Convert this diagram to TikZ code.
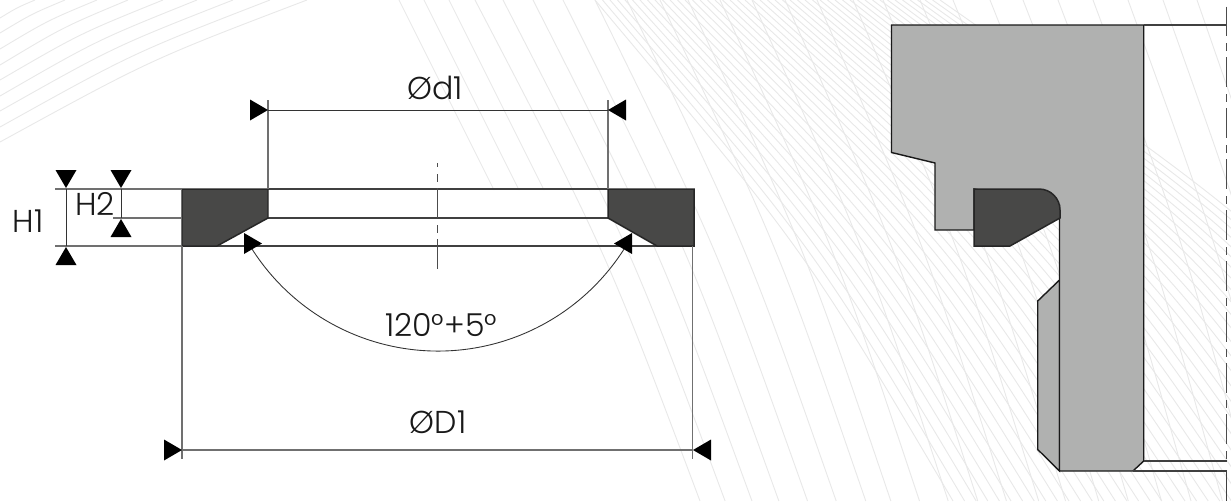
\documentclass[tikz,border=0pt]{standalone}
\usepackage{fontspec}
\setmainfont{Poppins Light}
\usepackage{xcolor}
\definecolor{bgfan}{HTML}{E8E8E8}
\definecolor{extgrey}{HTML}{707070}
\definecolor{sealgrey}{HTML}{484847}
\definecolor{steelgrey}{HTML}{B0B1B0}
\tikzset{
  fan/.style={draw=bgfan, line width=0.5pt},
  ext/.style={draw=extgrey, line width=0.65pt},
  dimline/.style={draw=black!80, line width=0.5pt},
  edge/.style={draw=black!75, line width=0.75pt},
  seal/.style={draw=black!85, fill=sealgrey, line width=0.85pt, line join=miter},
  steel/.style={draw=black!90, fill=steelgrey, line width=0.8pt, line join=miter},
  axisline/.style={draw=black!70, line width=0.6pt, dash pattern=on 17pt off 4pt on 4.5pt off 3.5pt},
  lab/.style={text=black!90, font=\fontsize{18}{20}\selectfont, inner sep=0pt}
}
\newcommand{\DimTip}[2]{%
  \fill[black, rotate around={#2:(#1)}] (#1) -- ++(-18,10.5) -- ++(0,-21) -- cycle;
}

\begin{document}
\begin{tikzpicture}[x=0.02cm, y=-0.02cm]
  \clip (0,0) rectangle (1231,501);
  \fill[white] (0,0) rectangle (1231,501);

  % background fans
  \foreach \xt/\yl in {307/142,270/127,233/111,197/96,163/80,128/65,97/49,65/33,35/18}
    \draw[fan] (0,\yl) .. controls (0.49*\xt,0.42*\yl) .. (\xt,0);
  \foreach \xa in {399,424,449}
    \draw[fan] (\xa,0) .. controls (\xa+50,100) .. (\xa+95,190);
  \foreach \xa in {475,503,533,563,595,627,660,688,720,752,785,817,853,883,920,953,990,1023,1058,1093,1128,1163,1197} {
    \pgfmathsetmacro\delt{225-0.104*(\xa-475)}
    \draw[fan] (\xa,0) .. controls (\xa+0.58*\delt,250) .. (\xa+\delt,501);
  }
  \foreach \i in {0,...,46} {
    \pgfmathsetmacro\xa{595+7.5*\i}
    \pgfmathsetmacro\xc{805+10.7*\i}
    \pgfmathsetmacro\xb{953+11.6*\i}
    \draw[fan] (\xa,0) .. controls (\xc,250) .. (\xb,501);
  }

  % ring, left view
  \coordinate (TL) at (268,189);
  \coordinate (TR) at (608,189);
  \coordinate (ML) at (268,218);
  \coordinate (MR) at (608,218);
  \coordinate (BL) at (217,246);
  \coordinate (BR) at (657,246);
  \draw[edge] (TL)--(TR);
  \draw[edge] (ML)--(MR);
  \draw[edge] (BL)--(BR);
  \draw[seal] (182,189)--(TL)--(ML)--(BL)--(182,246)--cycle;
  \draw[seal] (694,189)--(TR)--(MR)--(BR)--(694,246)--cycle;

  % axis
  \draw[axisline, dash phase=14.7pt] (437.5,163)--(437.5,269);

  % extension lines
  \draw[ext] (55,189)--(182,189);
  \draw[ext] (113,218)--(182,218);
  \draw[ext] (55,246)--(182,246);
  \draw[ext] (TL)--(268,100);
  \draw[ext] (TR)--(608,100);
  \draw[ext] (182,246)--(182,459);
  \draw[ext] (692.7,246)--(692.7,459);

  % dimensions
  \draw[dimline] (66,189)--(66,246);
  \draw[dimline] (121,189)--(121,218);
  \draw[dimline] (268,110)--(608,110);
  \draw[ext] (182,450)--(693,450);
  \draw[dimline] (252,249) arc[start angle=147.5, end angle=32.5, radius=220.6];
  \DimTip{66,188}{-90}
  \DimTip{66,247}{90}
  \DimTip{121,188}{-90}
  \DimTip{121,219}{90}
  \DimTip{268,110}{0}
  \DimTip{608,110}{180}
  \DimTip{182,450}{0}
  \DimTip{693,450}{180}
  \DimTip{262,243.5}{0}
  \DimTip{614,243.5}{180}

  \node[lab] (dOne) at (435,88) {Ød1};
  \node[lab] (DOne) at (438,422) {ØD1};
  \node[lab] (angle) at (441,325) {120°+5°};
  \node[lab] (HOne) at (28,221) {H1};
  \node[lab] (HTwo) at (95,204) {H2};

  % section, right view
  \draw[steel] (1037.7,301)--(1059.5,280)--(1059.5,471)--(1037.7,449.5)--cycle;
  \draw[steel] (891.5,25)--(1143.7,25)--(1143.7,461)--(1133,471)--(1059.5,471)
    --(1059.5,205)--(974,189)--(974,230)--(935,230)--(935,163)--(891.5,152.5)--cycle;
  \draw[seal] (974,189)--(1039,189) arc[start angle=-90, end angle=0, radius=21]
    --(1060,218)--(1010,246)--(974,246)--cycle;
  \draw[edge] (1143.7,25)--(1226.5,25);
  \draw[edge, line width=1.2pt, draw=black!75] (1143.7,461)--(1226.5,461);
  \draw[edge] (1133,471)--(1226.5,471)--(1226.5,501);
  \draw[axisline, line width=0.8pt] (1226.5,6.5)--(1226.5,463);
\end{tikzpicture}
\end{document}
